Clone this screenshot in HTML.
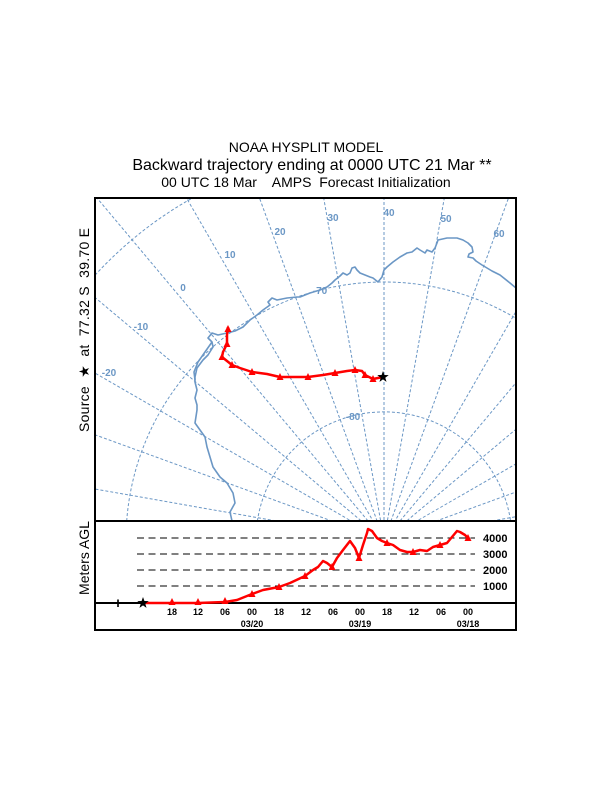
<!DOCTYPE html>
<html><head><meta charset="utf-8"><style>
html,body{margin:0;padding:0;background:#fff;width:612px;height:792px;overflow:hidden;}
svg{display:block;}
text{font-family:"Liberation Sans",Arial,sans-serif;}
</style></head><body>
<svg width="612" height="792" viewBox="0 0 612 792" xmlns="http://www.w3.org/2000/svg">
<rect width="612" height="792" fill="#fff"/>
<defs>
<clipPath id="mc"><rect x="95" y="198" width="421" height="323"/></clipPath>
<path id="st" d="M0,-6 L1.41,-1.94 L5.71,-1.85 L2.28,0.74 L3.53,4.85 L0,2.4 L-3.53,4.85 L-2.28,0.74 L-5.71,-1.85 L-1.41,-1.94 Z"/>
<path id="tr" d="M-3.5,3 L3.5,3 L0,-4 Z"/>
</defs>
<!-- titles -->
<text x="306" y="152" font-size="14" text-anchor="middle">NOAA HYSPLIT MODEL</text>
<text x="312" y="170" font-size="16" text-anchor="middle">Backward trajectory ending at 0000 UTC 21 Mar **</text>
<text x="306" y="187" font-size="14" text-anchor="middle" xml:space="preserve">00 UTC 18 Mar    AMPS  Forecast Initialization</text>

<!-- y labels -->
<text transform="translate(89,330) rotate(-90)" font-size="14" text-anchor="middle" textLength="204" xml:space="preserve">Source  ★  at  77.32 S  39.70 E</text>
<text transform="translate(89,558) rotate(-90)" font-size="14" text-anchor="middle">Meters AGL</text>

<!-- map -->
<g clip-path="url(#mc)">
<g stroke="#6b97c5" stroke-width="1" stroke-dasharray="3 2" fill="none">
<line x1="384" y1="540" x2="384" y2="198"/>
<line x1="384" y1="540" x2="444.3" y2="198"/>
<line x1="384" y1="540" x2="508.5" y2="198"/>
<line x1="384" y1="540" x2="516" y2="311.4"/>
<line x1="384" y1="540" x2="516" y2="382.7"/>
<line x1="384" y1="540" x2="516" y2="429.2"/>
<line x1="384" y1="540" x2="516" y2="463.8"/>
<line x1="384" y1="540" x2="516" y2="492"/>
<line x1="384" y1="540" x2="516" y2="516.7"/>
<line x1="384" y1="540" x2="323.7" y2="198"/>
<line x1="384" y1="540" x2="259.5" y2="198"/>
<line x1="384" y1="540" x2="186.5" y2="198"/>
<line x1="384" y1="540" x2="97" y2="198"/>
<line x1="384" y1="540" x2="95" y2="297.5"/>
<line x1="384" y1="540" x2="95" y2="373.1"/>
<line x1="384" y1="540" x2="95" y2="434.8"/>
<line x1="384" y1="540" x2="95" y2="489"/>
<path d="M257.4,521 A128,128 0 0 1 510.6,521"/>
<path d="M126.7,521 A258,258 0 0 1 516,318.3"/>
<path d="M95,275.2 A392,392 0 0 1 192.4,198"/>
</g>
<g fill="#6b97c5" font-size="10" font-weight="bold" text-anchor="middle">
<text x="389" y="216">40</text>
<text x="333" y="221">30</text>
<text x="446" y="222">50</text>
<text x="499" y="237">60</text>
<text x="280" y="235">20</text>
<text x="230" y="258">10</text>
<text x="183" y="291">0</text>
<text x="141" y="330">-10</text>
<text x="109" y="376">-20</text>
<text x="320" y="294">-70</text>
<text x="353" y="420">-80</text>
</g>
<g stroke="#6b97c5" stroke-width="1.6" fill="none" stroke-linejoin="round">
<polyline points="516,288 510,283 500,275 492,271 487,268 482,265 476,261 473,258 468,257 469,254 473,252 472,247 468,243 463,240 457,238 447,238 438,240 437,243 435,248 432,252 427,250 425,253 420,250 417,248 412,252 407,253 400,257 393,262 387,267 384,270 382,277 378,282 373,278 370,277 365,275 360,273 357,270 355,267 352,268 350,273 347,275 343,273 340,276 335,280 332,283 327,287 320,290 310,293 300,297 297,297 287,298 277,300 272,298 268,302 270,305 263,310 257,315 250,320 243,327 235,331 227,333 218,335 212,333 208,338 212,342 213,347 208,355 203,360 197,368 195,377 195,382 197,390 195,398 197,405 197,410 195,423 200,430 205,437 207,447 210,457 213,467 220,477 227,483 233,493 235,503 230,512 232,521"/>
<polyline points="212,342 205,352 198,362 194,372 195,380"/>
</g>
<!-- trajectory -->
<polyline points="383,377 373,379 365,375 362,371 355,370 347,371 335,373 323,375 308,377 293,377 280,377 267,374 252,372 240,368 232,365 222,357 223,352 227,344 227,335 228,327" stroke="#f00" stroke-width="2.5" fill="none" stroke-linejoin="round"/>
<g fill="#f00">
<use href="#tr" x="373" y="379"/>
<use href="#tr" x="365" y="375"/>
<use href="#tr" x="355" y="370"/>
<use href="#tr" x="335" y="373"/>
<use href="#tr" x="308" y="377"/>
<use href="#tr" x="280" y="377"/>
<use href="#tr" x="252" y="372"/>
<use href="#tr" x="232" y="365"/>
<use href="#tr" x="222" y="357"/>
<use href="#tr" x="227" y="344"/>
<use href="#tr" x="228" y="329"/>
</g>
<use href="#st" x="383" y="377" fill="#000"/>
</g>
<rect x="95" y="198" width="421" height="323" fill="none" stroke="#000" stroke-width="2"/>

<!-- lower panel -->
<rect x="95" y="521" width="421" height="109" fill="none" stroke="#000" stroke-width="2"/>
<g stroke="#000" stroke-width="1" stroke-dasharray="7 4.5">
<line x1="137" y1="538" x2="475" y2="538"/>
<line x1="137" y1="554" x2="475" y2="554"/>
<line x1="137" y1="570" x2="475" y2="570"/>
<line x1="137" y1="586" x2="475" y2="586"/>
</g>
<line x1="95" y1="603" x2="516" y2="603" stroke="#000" stroke-width="2"/>
<g font-size="11" font-weight="bold">
<text x="483" y="542">4000</text>
<text x="483" y="558">3000</text>
<text x="483" y="574">2000</text>
<text x="483" y="590">1000</text>
</g>
<g font-size="9" font-weight="bold" text-anchor="middle">
<text x="172" y="615">18</text>
<text x="198" y="615">12</text>
<text x="225" y="615">06</text>
<text x="252" y="615">00</text>
<text x="279" y="615">18</text>
<text x="306" y="615">12</text>
<text x="333" y="615">06</text>
<text x="360" y="615">00</text>
<text x="387" y="615">18</text>
<text x="414" y="615">12</text>
<text x="441" y="615">06</text>
<text x="468" y="615">00</text>
<text x="252" y="627">03/20</text>
<text x="360" y="627">03/19</text>
<text x="468" y="627">03/18</text>
</g>
<text x="118" y="608" font-size="15" font-weight="bold" text-anchor="middle">+</text>
<polyline points="143,603 172,603 198,603 225,602 237,600 252,594 263,590 279,587 290,583 305,576 313,570 318,567 323,561 327,563 332,567 337,558 343,550 350,541 355,548 359,558 363,545 367,533 368,529 372,531 377,538 382,541 387,543 393,545 400,550 407,552 413,552 420,550 427,551 433,547 440,545 447,543 452,537 457,531 460,532 465,535 468,538" stroke="#f00" stroke-width="2.5" fill="none" stroke-linejoin="round"/>
<g fill="#f00">
<use href="#tr" x="172" y="602"/>
<use href="#tr" x="198" y="602"/>
<use href="#tr" x="225" y="601"/>
<use href="#tr" x="252" y="594"/>
<use href="#tr" x="279" y="587"/>
<use href="#tr" x="305" y="576"/>
<use href="#tr" x="332" y="567"/>
<use href="#tr" x="359" y="558"/>
<use href="#tr" x="387" y="543"/>
<use href="#tr" x="413" y="552"/>
<use href="#tr" x="440" y="545"/>
<use href="#tr" x="468" y="538"/>
</g>
<use href="#st" x="143" y="603" fill="#000"/>
</svg>
</body></html>
